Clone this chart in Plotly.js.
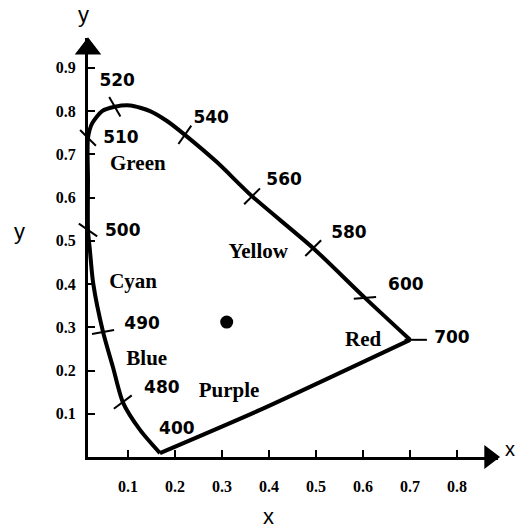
<!DOCTYPE html>
<html>
<head>
<meta charset="utf-8">
<script src="https://cdn.plot.ly/plotly-3.0.1.min.js"></script>
<style>html,body{margin:0;padding:0;background:#fff;}#chart{width:517px;height:528px;}</style>
</head>
<body>
<div id="chart"></div>
<script>
// Spectral locus, 400 nm -> 700 nm
var locusX = [0.168,0.126,0.089,0.068,0.047,0.026,0.019,0.015,0.015,0.015,0.024,0.045,0.072,0.105,0.147,0.183,0.221,0.289,0.364,0.494,0.604,0.700];
var locusY = [0.009,0.062,0.127,0.208,0.289,0.402,0.479,0.525,0.640,0.738,0.772,0.800,0.810,0.813,0.800,0.777,0.745,0.682,0.603,0.483,0.368,0.271];
// Purple line (700 nm back to 400 nm)
var purpleX = [0.700,0.381,0.168];
var purpleY = [0.271,0.109,0.009];
// Wavelength marks on the locus
var markNm = [480,490,500,510,520,540,560,580,600,700];
var markX = [0.089,0.047,0.015,0.015,0.072,0.221,0.364,0.494,0.604,0.712];
var markY = [0.127,0.289,0.525,0.738,0.810,0.745,0.603,0.483,0.368,0.271];
// Wavelength labels
var nmLabels = ['520','510','500','490','480','400','540','560','580','600','700'];
var nmLabelX = [0.077,0.085,0.089,0.130,0.172,0.204,0.277,0.432,0.570,0.691,0.789];
var nmLabelY = [0.867,0.737,0.520,0.307,0.157,0.064,0.782,0.638,0.516,0.395,0.273];
// Colour region names
var colorNames = ['Green','Yellow','Cyan','Blue','Purple','Red'];
var colorNameX = [0.121,0.377,0.111,0.140,0.315,0.600];
var colorNameY = [0.675,0.472,0.402,0.224,0.150,0.270];
// White point
var whiteX = [0.31];
var whiteY = [0.312];
// Axis ticks
var xTickVals = [0.1,0.2,0.3,0.4,0.5,0.6,0.7,0.8];
var xTickText = ['0.1','0.2','0.3','0.4','0.5','0.6','0.7','0.8'];
var yTickVals = [0.1,0.2,0.3,0.4,0.5,0.6,0.7,0.8,0.9];
var yTickText = ['0.1','0.2','0.3','0.4','0.5','0.6','0.7','0.8','0.9'];

var markAngles = [-37,-10,35,45,60,-55,-45,-45,-5,0];
function bold(a){ return a.map(function(s){ return '<b>' + s + '</b>'; }); }

var traces = [
  {x: locusX, y: locusY, mode: 'lines', line: {color: '#000', width: 4, shape: 'spline', smoothing: 0.7}, cliponaxis: false, hoverinfo: 'skip'},
  {x: purpleX, y: purpleY, mode: 'lines', line: {color: '#000', width: 4, shape: 'spline', smoothing: 0.6}, cliponaxis: false, hoverinfo: 'skip'},
  {x: markX, y: markY, mode: 'markers', marker: {symbol: 'line-ew-open', size: 16, angle: markAngles, color: '#000', line: {color: '#000', width: 2}}, cliponaxis: false, hoverinfo: 'skip'},
  {x: whiteX, y: whiteY, mode: 'markers', marker: {symbol: 'circle', size: 13, color: '#000'}, hoverinfo: 'skip'},
  {x: nmLabelX, y: nmLabelY, mode: 'text', text: bold(nmLabels), textposition: 'middle center',
   textfont: {family: 'DejaVu Sans', size: 17, color: '#000'}, cliponaxis: false, hoverinfo: 'skip'},
  {x: colorNameX, y: colorNameY, mode: 'text', text: bold(colorNames), textposition: 'middle center',
   textfont: {family: 'Liberation Serif', size: 21, color: '#000'}, cliponaxis: false, hoverinfo: 'skip'},
  // axis arrowheads
  {x: [0.869], y: [0], mode: 'markers', marker: {symbol: 'triangle-right', size: 21, color: '#000'}, cliponaxis: false, hoverinfo: 'skip'},
  {x: [0.015], y: [0.944], mode: 'markers', marker: {symbol: 'triangle-up', size: 23, color: '#000'}, cliponaxis: false, hoverinfo: 'skip'}
];

var tickFont = {family: 'Liberation Serif', size: 16, color: '#000'};
var letterFont = {family: 'Liberation Sans', size: 22, color: '#000'};

var layout = {
  width: 517, height: 528,
  margin: {l: 88, r: 19, t: 38, b: 71, pad: 0},
  paper_bgcolor: '#fff', plot_bgcolor: '#fff',
  showlegend: false,
  xaxis: {range: [0.015, 0.887], showline: true, linewidth: 3, linecolor: '#000', mirror: false,
          ticks: 'inside', ticklen: 7, tickwidth: 2, tickcolor: '#000',
          tickvals: xTickVals, ticktext: bold(xTickText), tickfont: tickFont, ticklabelstandoff: 13,
          showgrid: false, zeroline: false, fixedrange: true},
  yaxis: {range: [0, 0.969], showline: true, linewidth: 3, linecolor: '#000', mirror: false,
          ticks: 'inside', ticklen: 7, tickwidth: 2, tickcolor: '#000',
          tickvals: yTickVals, ticktext: bold(yTickText), tickfont: tickFont, ticklabelstandoff: 6,
          showgrid: false, zeroline: false, fixedrange: true},
  annotations: [
    {xref: 'paper', yref: 'paper', x: -0.012, y: 1.055, text: 'y', showarrow: false, xanchor: 'center', yanchor: 'middle', font: letterFont},
    {xref: 'paper', yref: 'paper', x: -0.168, y: 0.537, text: 'y', showarrow: false, xanchor: 'center', yanchor: 'middle', font: letterFont},
    {xref: 'paper', yref: 'paper', x: 1.012, y: 0.02, text: 'x', showarrow: false, xanchor: 'left', yanchor: 'middle', font: {family: 'Liberation Sans', size: 20, color: '#000'}},
    {xref: 'paper', yref: 'paper', x: 0.441, y: -0.141, text: 'x', showarrow: false, xanchor: 'center', yanchor: 'middle', font: letterFont}
  ]
};

Plotly.newPlot('chart', traces, layout, {staticPlot: true, displayModeBar: false});
</script>
</body>
</html>
